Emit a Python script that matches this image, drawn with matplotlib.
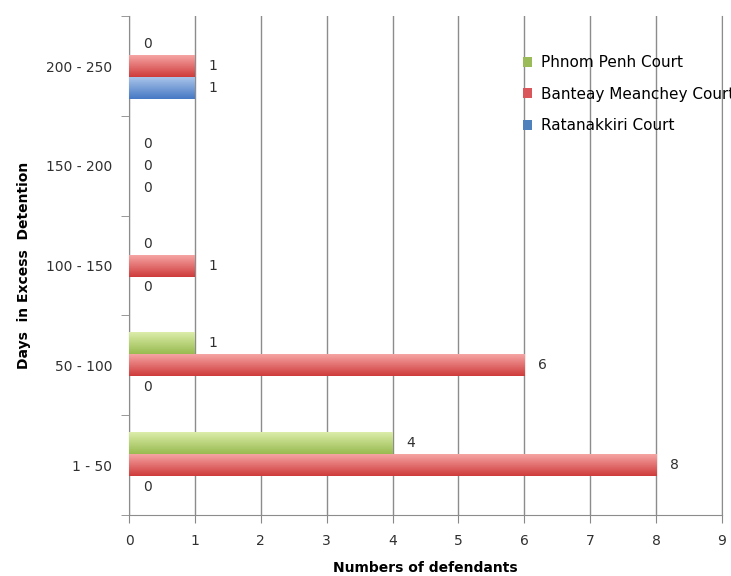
import numpy as np
import matplotlib.pyplot as plt
from matplotlib.patches import Patch
from matplotlib.colors import LinearSegmentedColormap

ranges = ["1 - 50", "50 - 100", "100 - 150", "150 - 200", "200 - 250"]
courts = ["Phnom Penh Court", "Banteay Meanchey Court", "Ratanakkiri Court"]
phnom_penh = [4, 1, 0, 0, 0]
banteay = [8, 6, 1, 0, 1]
ratanakkiri = [0, 0, 0, 0, 1]

# (top colour, bottom colour) for the shaded bars
shades = [("#dcedaa", "#98bb50"), ("#f6a4a4", "#cf3b3b"), ("#a9c4ea", "#4679c4")]
legend_cols = ["#9bbb59", "#d9575a", "#4f81bd"]


def shade_bars(ax, bars, top, bottom):
    cmap = LinearSegmentedColormap.from_list("s", [bottom, top])
    grad = np.linspace(0, 1, 64).reshape(-1, 1)
    for b in bars:
        x0, y0 = b.get_x(), b.get_y()
        w, h = b.get_width(), b.get_height()
        if w <= 0:
            continue
        im = ax.imshow(grad, cmap=cmap, aspect="auto", origin="upper",
                       extent=(x0, x0 + w, y0 + h, y0), zorder=3)
        im.set_clip_path(b)
        b.set_facecolor("none")


fig = plt.figure(figsize=(7.31, 5.76), dpi=100)
ax = fig.add_axes([0.1765, 0.106, 0.8112, 0.866])

y = np.arange(len(ranges))
h = 0.22
series = [phnom_penh, banteay, ratanakkiri]
offsets = [h, 0, -h]
for vals, off, (top, bot) in zip(series, offsets, shades):
    bars = ax.barh(y + off, vals, height=h, color=bot, edgecolor="none", zorder=3)
    shade_bars(ax, bars, top, bot)
    for b, v in zip(bars, vals):
        ax.annotate(str(v), (v, b.get_y() + h / 2), xytext=(10, 0),
                    textcoords="offset points", va="center", ha="left",
                    fontsize=10, color="#303030")

ax.set_xlim(0, 9)
ax.set_ylim(-0.5, len(ranges) - 0.5)
ax.set_xticks(range(10))
ax.set_yticks(y)
ax.set_yticklabels(ranges)
ax.set_yticks(np.arange(-0.5, len(ranges), 1), minor=True)
ax.tick_params(axis="y", which="major", length=0, pad=12, labelsize=10, labelcolor="#303030")
ax.tick_params(axis="y", which="minor", length=6, color="#888888", direction="out")
ax.tick_params(axis="x", length=6, color="#888888", pad=8, labelsize=10, labelcolor="#303030")
ax.grid(axis="x", color="#8c8c8c", linewidth=1, zorder=0)
ax.set_axisbelow(True)
ax.spines["top"].set_visible(False)
for s in ["left", "bottom", "right"]:
    ax.spines[s].set_color("#8c8c8c")

ax.set_xlabel("Numbers of defendants", fontsize=10, fontweight="bold", labelpad=9)
ax.set_ylabel("Days  in Excess  Detention", fontsize=10, fontweight="bold", labelpad=11)

handles = [Patch(facecolor=c, edgecolor="none") for c in legend_cols]
ax.legend(handles, courts, loc="upper left", bbox_to_anchor=(0.664, 0.922),
          frameon=False, fontsize=11, labelspacing=1.08, handlelength=0.6,
          handleheight=0.6, handletextpad=0.6, borderpad=0, borderaxespad=0)

fig.savefig("out.png", dpi=100)
